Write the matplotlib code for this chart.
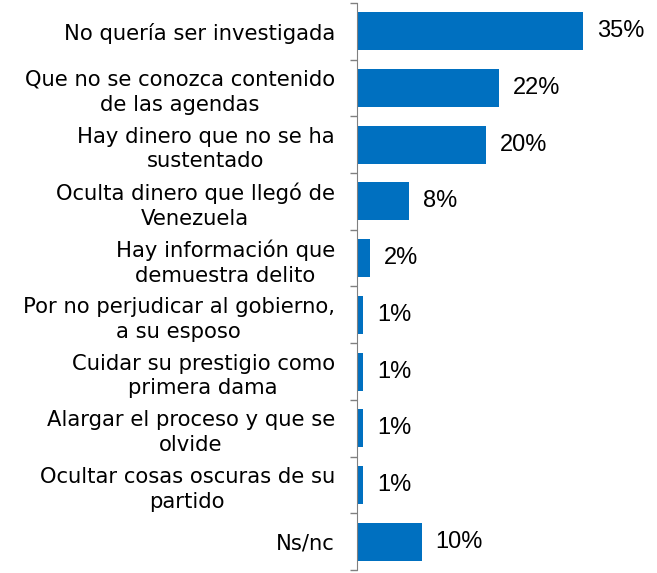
import numpy as np
import matplotlib.pyplot as plt

# datos
categorias = [
    "No quería ser investigada",
    "Que no se conozca contenido\nde las agendas",
    "Hay dinero que no se ha\nsustentado",
    "Oculta dinero que llegó de\nVenezuela",
    "Hay información que\ndemuestra delito",
    "Por no perjudicar al gobierno,\na su esposo",
    "Cuidar su prestigio como\nprimera dama",
    "Alargar el proceso y que se\nolvide",
    "Ocultar cosas oscuras de su\npartido",
    "Ns/nc",
]
valores = [35, 22, 20, 8, 2, 1, 1, 1, 1, 10]
etiquetas = ["35%", "22%", "20%", "8%", "2%", "1%", "1%", "1%", "1%", "10%"]

color_barra = "#0070C0"

fig = plt.figure(figsize=(6.57, 5.73), dpi=100)
ax = fig.add_axes([0.5434, 0.005, 0.393, 0.99])

y = np.arange(len(categorias))
ax.barh(y, valores, height=0.67, color=color_barra)
ax.set_ylim(len(categorias) - 0.5, -0.5)
ax.set_xlim(0, 40)

for yi, v, t in zip(y, valores, etiquetas):
    ax.annotate(t, (v, yi), xytext=(10, 0), textcoords="offset points",
                va="center", ha="left", fontsize=17, family="Liberation Sans",
                color="#000000")

# etiquetas de categorias
ax.set_yticks(y)
ax.set_yticklabels(categorias, fontsize=15.2, multialignment="center",
                   linespacing=1.3)
ax.tick_params(axis="y", which="major", length=0, pad=16)
ax.set_yticks(np.arange(-0.5, len(categorias)), minor=True)
ax.tick_params(axis="y", which="minor", length=5, color="#808080", width=1)

for s in ["top", "right", "bottom"]:
    ax.spines[s].set_visible(False)
ax.spines["left"].set_color("#808080")
ax.set_xticks([])

fig.savefig("out.png", dpi=100)
